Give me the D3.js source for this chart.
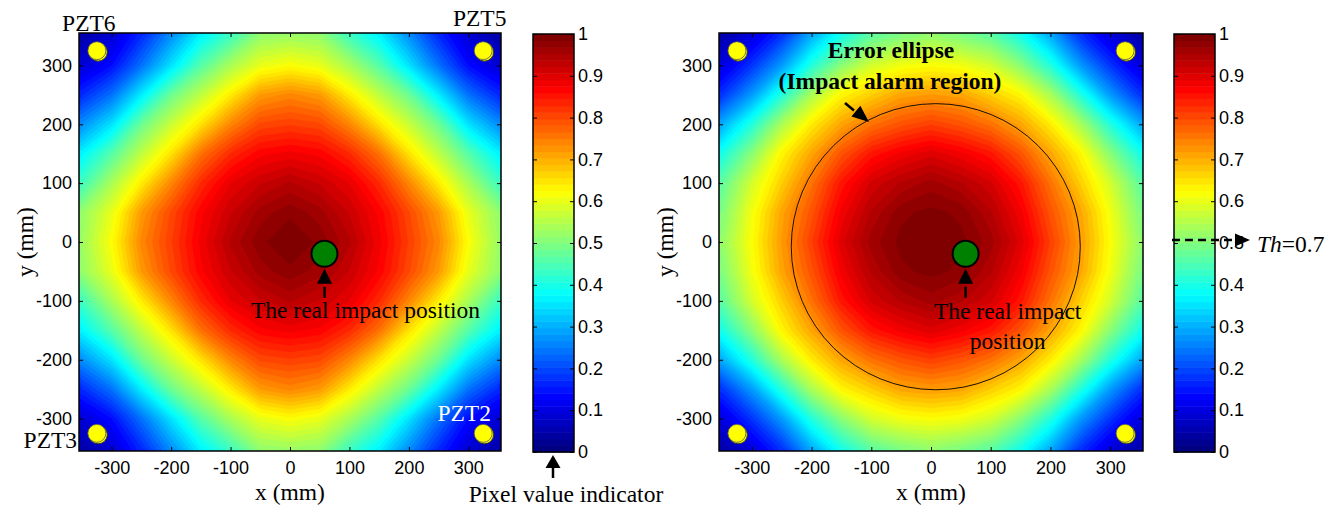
<!DOCTYPE html>
<html>
<head>
<meta charset="utf-8">
<script src="https://cdn.jsdelivr.net/npm/d3@7"></script>
<style>
  body { margin: 0; background: #fff; }
  svg { display: block; }
  .tick text { font-family: "Liberation Sans", Arial, sans-serif; font-size: 18px; fill: #000; }
  .serif { font-family: "Liberation Serif", "Times New Roman", serif; font-size: 23.5px; fill: #000; }
</style>
</head>
<body>
<svg id="chart" width="1336" height="508"></svg>
<script>
// sample positions of the imaging grid (mm)
const gridX = [-350, -300, -250, -200, -150, -100, -50, 0, 50, 100, 150, 200, 250, 300, 350];
const gridY = [350, 300, 250, 200, 150, 100, 50, 0, -50, -100, -150, -200, -250, -300, -350];

// pixel values (rows top -> bottom)
const leftImage = [
  [0.05, 0.09, 0.17, 0.27, 0.37, 0.44, 0.52, 0.53, 0.52, 0.44, 0.37, 0.27, 0.17, 0.09, 0.05],
  [0.09, 0.14, 0.24, 0.35, 0.46, 0.54, 0.60, 0.62, 0.60, 0.54, 0.46, 0.35, 0.24, 0.14, 0.09],
  [0.17, 0.24, 0.36, 0.48, 0.56, 0.64, 0.72, 0.74, 0.72, 0.64, 0.56, 0.48, 0.36, 0.24, 0.17],
  [0.27, 0.35, 0.48, 0.57, 0.65, 0.74, 0.80, 0.81, 0.80, 0.74, 0.65, 0.57, 0.48, 0.35, 0.27],
  [0.37, 0.46, 0.56, 0.65, 0.76, 0.83, 0.87, 0.88, 0.87, 0.83, 0.76, 0.65, 0.56, 0.46, 0.37],
  [0.44, 0.54, 0.64, 0.74, 0.83, 0.89, 0.92, 0.94, 0.92, 0.89, 0.83, 0.74, 0.64, 0.54, 0.44],
  [0.52, 0.60, 0.72, 0.80, 0.87, 0.92, 0.96, 0.98, 0.96, 0.92, 0.87, 0.80, 0.72, 0.60, 0.52],
  [0.53, 0.62, 0.74, 0.81, 0.88, 0.94, 0.98, 1.00, 0.98, 0.94, 0.88, 0.81, 0.74, 0.62, 0.53],
  [0.52, 0.60, 0.72, 0.80, 0.87, 0.92, 0.96, 0.98, 0.96, 0.92, 0.87, 0.80, 0.72, 0.60, 0.52],
  [0.44, 0.54, 0.64, 0.74, 0.83, 0.89, 0.92, 0.94, 0.92, 0.89, 0.83, 0.74, 0.64, 0.54, 0.44],
  [0.37, 0.46, 0.56, 0.65, 0.76, 0.83, 0.87, 0.88, 0.87, 0.83, 0.76, 0.65, 0.56, 0.46, 0.37],
  [0.27, 0.35, 0.48, 0.57, 0.65, 0.74, 0.80, 0.81, 0.80, 0.74, 0.65, 0.57, 0.48, 0.35, 0.27],
  [0.17, 0.24, 0.36, 0.48, 0.56, 0.64, 0.72, 0.74, 0.72, 0.64, 0.56, 0.48, 0.36, 0.24, 0.17],
  [0.09, 0.14, 0.24, 0.35, 0.46, 0.54, 0.60, 0.62, 0.60, 0.54, 0.46, 0.35, 0.24, 0.14, 0.09],
  [0.05, 0.09, 0.17, 0.27, 0.37, 0.44, 0.52, 0.53, 0.52, 0.44, 0.37, 0.27, 0.17, 0.09, 0.05]
];

// pixel values
const rightImage = [
  [0.05, 0.10, 0.18, 0.30, 0.40, 0.47, 0.50, 0.52, 0.50, 0.47, 0.40, 0.30, 0.18, 0.10, 0.05],
  [0.10, 0.18, 0.28, 0.41, 0.51, 0.58, 0.61, 0.62, 0.61, 0.58, 0.51, 0.41, 0.28, 0.18, 0.10],
  [0.18, 0.28, 0.41, 0.54, 0.63, 0.67, 0.71, 0.72, 0.71, 0.67, 0.63, 0.54, 0.41, 0.28, 0.18],
  [0.30, 0.41, 0.54, 0.64, 0.71, 0.76, 0.79, 0.81, 0.79, 0.76, 0.71, 0.64, 0.54, 0.41, 0.30],
  [0.40, 0.51, 0.63, 0.71, 0.79, 0.85, 0.88, 0.90, 0.88, 0.85, 0.79, 0.71, 0.63, 0.51, 0.40],
  [0.47, 0.58, 0.67, 0.76, 0.85, 0.91, 0.94, 0.96, 0.94, 0.91, 0.85, 0.76, 0.67, 0.58, 0.47],
  [0.50, 0.61, 0.71, 0.79, 0.88, 0.94, 0.98, 0.99, 0.98, 0.94, 0.88, 0.79, 0.71, 0.61, 0.50],
  [0.52, 0.62, 0.72, 0.81, 0.90, 0.96, 0.99, 1.00, 0.99, 0.96, 0.90, 0.81, 0.72, 0.62, 0.52],
  [0.50, 0.61, 0.71, 0.79, 0.88, 0.94, 0.98, 0.99, 0.98, 0.94, 0.88, 0.79, 0.71, 0.61, 0.50],
  [0.47, 0.58, 0.67, 0.76, 0.85, 0.91, 0.94, 0.96, 0.94, 0.91, 0.85, 0.76, 0.67, 0.58, 0.47],
  [0.40, 0.51, 0.63, 0.71, 0.79, 0.85, 0.88, 0.90, 0.88, 0.85, 0.79, 0.71, 0.63, 0.51, 0.40],
  [0.30, 0.41, 0.54, 0.64, 0.71, 0.76, 0.79, 0.81, 0.79, 0.76, 0.71, 0.64, 0.54, 0.41, 0.30],
  [0.18, 0.28, 0.41, 0.54, 0.63, 0.67, 0.71, 0.72, 0.71, 0.67, 0.63, 0.54, 0.41, 0.28, 0.18],
  [0.10, 0.18, 0.28, 0.41, 0.51, 0.58, 0.61, 0.62, 0.61, 0.58, 0.51, 0.41, 0.28, 0.18, 0.10],
  [0.05, 0.10, 0.18, 0.30, 0.40, 0.47, 0.50, 0.52, 0.50, 0.47, 0.40, 0.30, 0.18, 0.10, 0.05]
];

const axisTicks = [-300, -200, -100, 0, 100, 200, 300];
const colorTicks = [0, 0.1, 0.2, 0.3, 0.4, 0.5, 0.6, 0.7, 0.8, 0.9, 1];
const sensorPos = [[-325, 325], [325, 325], [-325, -325], [325, -325]];
const sensorNames = ["PZT6", "PZT5", "PZT3", "PZT2"];
const impactPos = [58, -20];
const ellipseCenter = [8, -8];
const ellipseRadii = [242, 243];
const thresholdMark = 0.5;   // where the Th arrow points on the colour bar
const thresholdText = "0.7";

const svg = d3.select("#chart");
const nLevels = 64;

// MATLAB jet colour map
function jet(t) {
  const c = v => Math.max(0, Math.min(1, v));
  return d3.rgb(255 * c(1.5 - Math.abs(4 * t - 3)),
                255 * c(1.5 - Math.abs(4 * t - 2)),
                255 * c(1.5 - Math.abs(4 * t - 1))).toString();
}
const levels = d3.range(nLevels).map(k => k / nLevels);
const plain = d => String(d);

function drawPanel(p) {
  const x = d3.scaleLinear().domain([-355, 355]).range([p.x0, p.x1]);
  const y = d3.scaleLinear().domain([-355, 355]).range([p.y1, p.y0]);
  const g = svg.append("g");

  const clipId = "clip" + p.id;
  svg.append("clipPath").attr("id", clipId)
    .append("rect").attr("x", p.x0).attr("y", p.y0)
    .attr("width", p.x1 - p.x0).attr("height", p.y1 - p.y0);

  // heat map as filled bands of the grid
  const n = gridX.length;
  const step = gridX[1] - gridX[0];
  const proj = d3.geoTransform({
    point: function (gx, gy) {
      this.stream.point(x(gridX[0] + (gx - 0.5) * step), y(gridY[0] - (gy - 0.5) * step));
    }
  });
  const path = d3.geoPath(proj);
  const bands = d3.contours().size([n, n]).thresholds(levels)(p.values.flat());
  g.append("g").attr("clip-path", "url(#" + clipId + ")")
    .selectAll("path").data(bands).join("path")
    .attr("d", path)
    .attr("fill", (d, i) => jet(i / (nLevels - 1)))
    .attr("stroke", (d, i) => jet(i / (nLevels - 1)))
    .attr("stroke-width", 0.3);

  // axes, ticks inside
  g.append("g").attr("transform", `translate(0,${p.y1})`)
    .call(d3.axisBottom(x).tickValues(axisTicks).tickSize(-4).tickSizeOuter(0).tickPadding(10).tickFormat(plain));
  g.append("g").attr("transform", `translate(0,${p.y0})`)
    .call(d3.axisTop(x).tickValues(axisTicks).tickSize(-4).tickSizeOuter(0).tickFormat(""));
  g.append("g").attr("transform", `translate(${p.x0},0)`)
    .call(d3.axisLeft(y).tickValues(axisTicks).tickSize(-4).tickSizeOuter(0).tickPadding(7).tickFormat(plain));
  g.append("g").attr("transform", `translate(${p.x1},0)`)
    .call(d3.axisRight(y).tickValues(axisTicks).tickSize(-4).tickSizeOuter(0).tickFormat(""));
  g.selectAll(".domain").remove();
  g.append("rect").attr("x", p.x0).attr("y", p.y0)
    .attr("width", p.x1 - p.x0).attr("height", p.y1 - p.y0)
    .attr("fill", "none").attr("stroke", "#000").attr("stroke-width", 1.5);

  g.append("text").attr("class", "serif").attr("text-anchor", "middle")
    .attr("x", (p.x0 + p.x1) / 2).attr("y", 500).text("x (mm)");
  g.append("text").attr("class", "serif").attr("text-anchor", "middle")
    .attr("transform", `translate(${p.x0 - 46},${(p.y0 + p.y1) / 2}) rotate(-90)`).text("y (mm)");

  // sensors
  const sg = g.append("g").selectAll("g").data(sensorPos).join("g")
    .attr("transform", d => `translate(${x(d[0])},${y(d[1])})`);
  sg.append("circle").attr("cx", 1.3).attr("cy", 1.3).attr("r", 9.2)
    .attr("fill", "#ffff00").attr("stroke", "#333").attr("stroke-width", 1);
  sg.append("circle").attr("r", 9).attr("fill", "#ffff00")
    .attr("stroke", "#555").attr("stroke-width", 0.8);

  // colour bar
  const cb = d3.scaleLinear().domain([0, 1]).range([p.cy1, p.cy0]);
  g.append("g").selectAll("rect").data(levels).join("rect")
    .attr("x", p.cx0).attr("width", p.cx1 - p.cx0)
    .attr("y", d => cb(d + 1 / nLevels))
    .attr("height", d => cb(d) - cb(d + 1 / nLevels) + 0.5)
    .attr("fill", (d, i) => jet(i / (nLevels - 1)));
  g.append("g").attr("transform", `translate(${p.cx1},0)`)
    .call(d3.axisRight(cb).tickValues(colorTicks).tickSize(-4).tickSizeOuter(0).tickPadding(4)
      .tickFormat(d3.format("~g")))
    .select(".domain").remove();
  g.append("g").attr("transform", `translate(${p.cx0},0)`)
    .call(d3.axisLeft(cb).tickValues(colorTicks).tickSize(-4).tickSizeOuter(0).tickFormat(""))
    .select(".domain").remove();
  g.append("rect").attr("x", p.cx0).attr("y", p.cy0)
    .attr("width", p.cx1 - p.cx0).attr("height", p.cy1 - p.cy0)
    .attr("fill", "none").attr("stroke", "#000").attr("stroke-width", 1.5);

  return { g, x, y, cb };
}

function impactMarker(g, x, y) {
  const cx = x(impactPos[0]), cy = y(impactPos[1]);
  g.append("path")
    .attr("d", `M${cx},${cy + 15}L${cx - 7.5},${cy + 30}L${cx + 7.5},${cy + 30}Z`)
    .attr("fill", "#000");
  g.append("line").attr("x1", cx).attr("x2", cx).attr("y1", cy + 33).attr("y2", cy + 44)
    .attr("stroke", "#000").attr("stroke-width", 2.5);
  g.append("circle").attr("cx", cx).attr("cy", cy).attr("r", 13)
    .attr("fill", "#008000").attr("stroke", "#000").attr("stroke-width", 2);
  return [cx, cy];
}

function arrowHead(g, tip, dir, len, half) {
  const a = Math.atan2(dir[1], dir[0]);
  const bx = tip[0] - len * Math.cos(a), by = tip[1] - len * Math.sin(a);
  const px = -Math.sin(a) * half, py = Math.cos(a) * half;
  g.append("path")
    .attr("d", `M${tip[0]},${tip[1]}L${bx + px},${by + py}L${bx - px},${by - py}Z`)
    .attr("fill", "#000");
}

// ---- left panel
const L = drawPanel({ id: "L", values: leftImage, x0: 79, x1: 501, y0: 33, y1: 451,
  cx0: 533, cx1: 574, cy0: 34, cy1: 452 });
const labelOffsets = [[-8, -20, "#000"], [-3.5, -25, "#000"], [-46.5, 15, "#000"], [-19, -12, "#fff"]];
L.g.append("g").selectAll("text").data(sensorPos).join("text")
  .attr("class", "serif").attr("text-anchor", "middle")
  .attr("x", (d, i) => L.x(d[0]) + labelOffsets[i][0])
  .attr("y", (d, i) => L.y(d[1]) + labelOffsets[i][1])
  .style("fill", (d, i) => labelOffsets[i][2])
  .text((d, i) => sensorNames[i]);
const li = impactMarker(L.g, L.x, L.y);
L.g.append("text").attr("class", "serif").attr("text-anchor", "middle")
  .attr("x", li[0] + 41).attr("y", li[1] + 64).text("The real impact position");

// pixel value indicator
const cbMid = (533 + 574) / 2 - 0.5;
L.g.append("line").attr("x1", cbMid).attr("x2", cbMid)
  .attr("y1", L.cb(0) + 14).attr("y2", L.cb(0) + 26)
  .attr("stroke", "#000").attr("stroke-width", 2.5);
arrowHead(L.g, [cbMid, L.cb(0) + 3], [0, -1], 13, 7.5);
L.g.append("text").attr("class", "serif").attr("text-anchor", "middle")
  .attr("x", cbMid + 13).attr("y", 502).text("Pixel value indicator");

// ---- right panel
const R = drawPanel({ id: "R", values: rightImage, x0: 719, x1: 1143, y0: 33, y1: 451,
  cx0: 1174, cx1: 1215, cy0: 34, cy1: 452 });

R.g.append("ellipse")
  .attr("cx", R.x(ellipseCenter[0])).attr("cy", R.y(ellipseCenter[1]))
  .attr("rx", R.x(ellipseRadii[0]) - R.x(0)).attr("ry", R.y(0) - R.y(ellipseRadii[1]))
  .attr("fill", "none").attr("stroke", "#000").attr("stroke-width", 0.9);

const ri = impactMarker(R.g, R.x, R.y);
R.g.append("text").attr("class", "serif").attr("text-anchor", "middle")
  .attr("x", ri[0] + 42).attr("y", ri[1] + 65).text("The real impact");
R.g.append("text").attr("class", "serif").attr("text-anchor", "middle")
  .attr("x", ri[0] + 42).attr("y", ri[1] + 95).text("position");

R.g.append("text").attr("class", "serif").attr("text-anchor", "middle")
  .style("font-weight", "bold").attr("x", 891).attr("y", 58).text("Error ellipse");
R.g.append("text").attr("class", "serif").attr("text-anchor", "middle")
  .style("font-weight", "bold").attr("x", 890).attr("y", 89).text("(Impact alarm region)");
R.g.append("line").attr("x1", 845).attr("y1", 103).attr("x2", 854).attr("y2", 110.5)
  .attr("stroke", "#000").attr("stroke-width", 2.5);
arrowHead(R.g, [869, 122], [23, 19], 17, 7);

// threshold arrow on the colour bar
const thY = R.cb(thresholdMark) - 3;
R.g.append("line").attr("x1", 1172).attr("x2", 1238).attr("y1", thY).attr("y2", thY)
  .attr("stroke", "#000").attr("stroke-width", 2.5).attr("stroke-dasharray", "8,5");
arrowHead(R.g, [1250, thY], [1, 0], 15, 6.5);
const th = R.g.append("text").attr("class", "serif").attr("x", 1257).attr("y", thY + 12);
th.append("tspan").style("font-style", "italic").text("Th");
th.append("tspan").text("=" + thresholdText);
</script>
</body>
</html>
